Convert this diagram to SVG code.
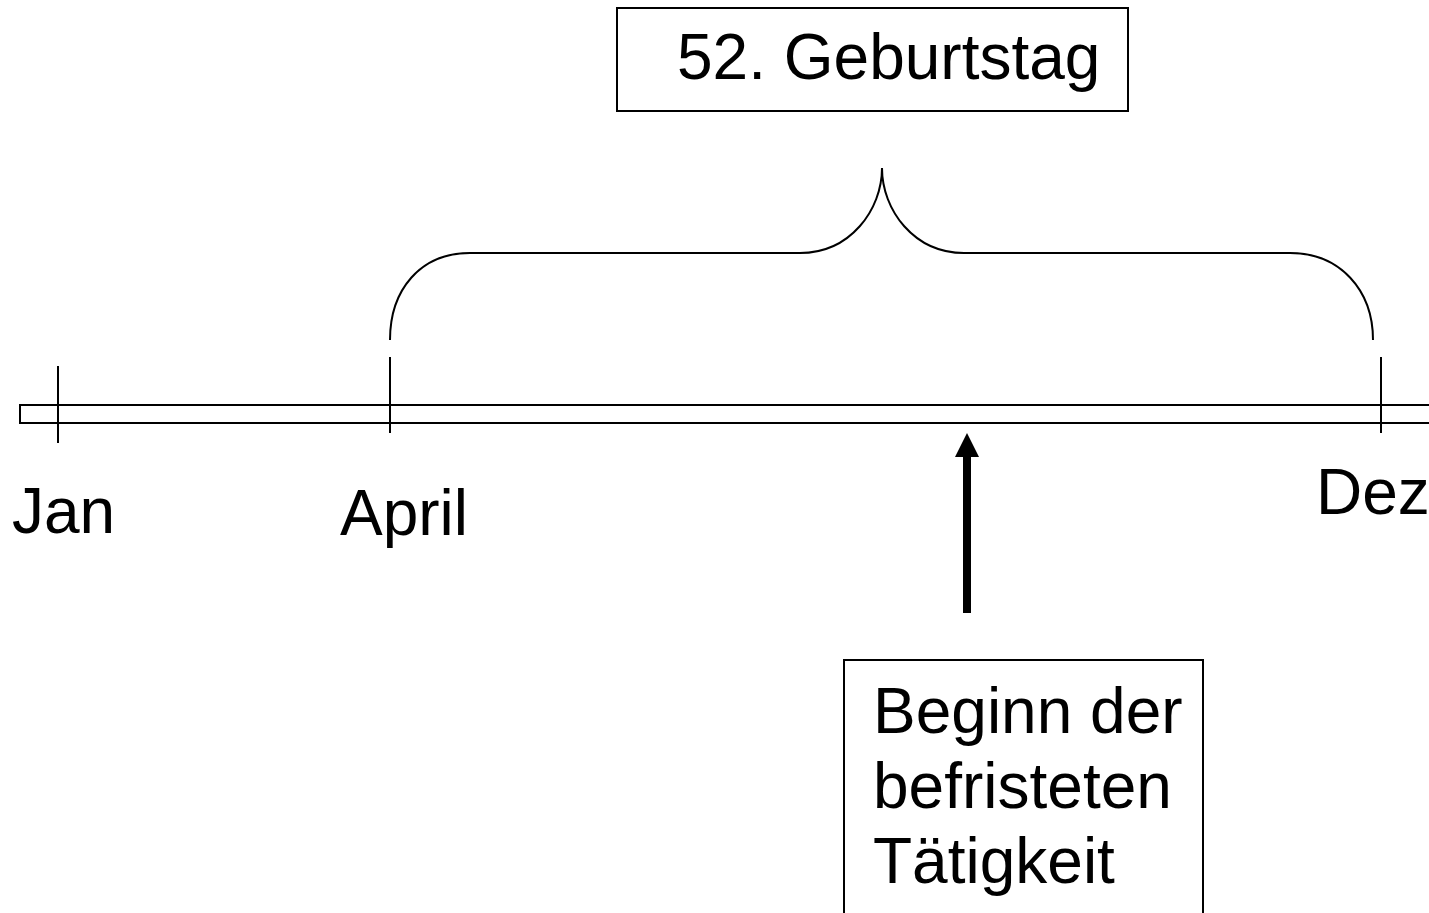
<svg xmlns="http://www.w3.org/2000/svg" width="1429" height="913" viewBox="0 0 1429 913">
<defs>
<style>
.t{font-family:"Liberation Sans",Arial,sans-serif;font-size:64px;fill:#000}
.ln{stroke:#000;stroke-width:2;fill:none}
.box{stroke:#000;stroke-width:2;fill:#fff}
</style>
<marker id="ah" markerWidth="24" markerHeight="24" viewBox="0 0 24 24" refX="12" refY="0" orient="auto" markerUnits="userSpaceOnUse"><path d="M0,24 L12,0 L24,24 Z" fill="#000"/></marker>
</defs>
<rect width="1429" height="913" fill="#fff"/>
<g id="timeline">
<rect x="20" y="405" width="1420" height="18" class="ln"/>
<line x1="58" y1="366" x2="58" y2="443" class="ln"/>
<line x1="390" y1="357" x2="390" y2="433" class="ln"/>
<line x1="1381" y1="357" x2="1381" y2="433" class="ln"/>
</g>
<g id="labels">
<text x="12" y="533" class="t">Jan</text>
<text x="340" y="535" class="t">April</text>
<text x="1316" y="514" class="t">Dez</text>
</g>
<g id="brace">
<path class="ln" d="M390,340 C390,290 420,253 470,253 L800,253 C850,253 882,210 882,168 C882,210 914,253 964,253 L1290,253 C1340,253 1373,290 1373,340"/>
</g>
<g id="birthday">
<rect x="617" y="8" width="511" height="103" class="box"/>
<text x="677" y="79" class="t">52. Geburtstag</text>
</g>
<g id="connectors">
<line x1="967" y1="613" x2="967" y2="457" stroke="#000" stroke-width="8"/>
<path d="M955,457 L967,433 L979,457 Z" fill="#000"/>
</g>
<g id="beginn">
<rect x="844" y="660" width="359" height="270" class="box"/>
<text x="873" y="733" class="t">Beginn der</text>
<text x="873" y="808" class="t">befristeten</text>
<text x="873" y="883" class="t">Tätigkeit</text>
</g>
</svg>
